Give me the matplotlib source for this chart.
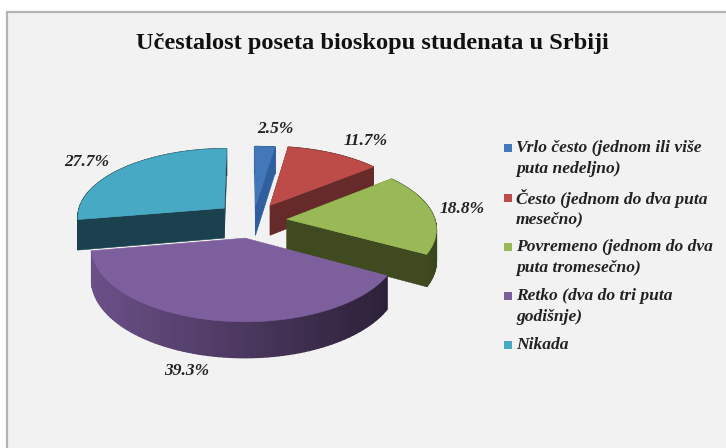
import numpy as np
import matplotlib
matplotlib.use('Agg')
import matplotlib.pyplot as plt
from matplotlib.patches import Polygon, Rectangle

title = 'Učestalost poseta bioskopu studenata u Srbiji'
values = [2.5, 11.7, 18.8, 39.3, 27.7]
legend_lines = [
    ['Vrlo često (jednom ili više', 'puta nedeljno)'],
    ['Često (jednom do dva puta', 'mesečno)'],
    ['Povremeno (jednom do dva', 'puta tromesečno)'],
    ['Retko (dva do tri puta', 'godišnje)'],
    ['Nikada'],
]

top_colors = ['#4277b9', '#bd4c49', '#98b955', '#7e5f9e', '#47a9c4']
face_colors = ['#2f5f9c', '#652a29', '#3f4a20', None, '#1c414e']
rim_left = ['#2f5f9c', '#652a29', '#4d5b27', '#6b5088', '#1c414e']
rim_right = ['#2f5f9c', '#652a29', '#3a451d', '#2d2139', '#1c414e']
# how far each slice is pulled out, in units of the pie radius
offsets = [(0.059, 0.33), (0.16, 0.33), (0.27, 0.126), (-0.012, -0.14), (-0.157, 0.29)]
label_pos = [(275, 129), (366, 141), (462, 209), (187, 371), (87, 162)]

cx, cy = 247, 228
rx, ry = 150, 71
persp = 0.12
depth = 31


def project(X, Y):
    s = 1 / (1 + persp * Y)
    return cx + rx * X * s, cy - ry * Y * s, depth * s


def to_rgb(c):
    return np.array(matplotlib.colors.to_rgb(c))


fig = plt.figure(figsize=(7.26, 4.48), dpi=100, facecolor='white')
ax = fig.add_axes([0, 0, 1, 1])
ax.set_xlim(0, 726)
ax.set_ylim(448, 0)
ax.axis('off')
ax.add_patch(Rectangle((7, 12), 740, 460, fc='#f2f2f2', ec='#b4b4b4', lw=1.6))

angles = np.radians(np.cumsum([0] + values) * 3.6)
order = [0, 1, 4, 2, 3]
for i in order:
    a0, a1 = angles[i], angles[i + 1]
    ox, oy = offsets[i]
    t = np.linspace(a0, a1, 80)
    x, y, d = project(ox + np.sin(t), oy + np.cos(t))
    ax_, ay_, ad_ = project(ox, oy)

    # outer rim, shaded left to right
    for j in range(len(t) - 1):
        f = np.clip((x[j] - x.min()) / max(x.max() - x.min(), 1), 0, 1)
        col = (1 - f) * to_rgb(rim_left[i]) + f * to_rgb(rim_right[i])
        quad = [(x[j], y[j]), (x[j + 1], y[j + 1]),
                (x[j + 1], y[j + 1] + d[j + 1]), (x[j], y[j] + d[j])]
        ax.add_patch(Polygon(quad, fc=col, ec=col, lw=1.0))

    # cut faces
    if face_colors[i]:
        for k in [0, -1]:
            quad = [(ax_, ay_), (x[k], y[k]), (x[k], y[k] + d[k]), (ax_, ay_ + ad_)]
            ax.add_patch(Polygon(quad, fc=face_colors[i], ec=face_colors[i], lw=0.4))

    pts = [(ax_, ay_)] + list(zip(x, y))
    ax.add_patch(Polygon(pts, fc=top_colors[i], ec=top_colors[i], lw=0.4))

serif = 'Liberation Serif'
ax.text(372, 44, title, family=serif, weight='bold', size=17.6, ha='center', va='center', color='#111111')

for v, (lx, ly) in zip(values, label_pos):
    ax.text(lx, ly, f'{v}%', family=serif, weight='bold', style='italic', size=12.5,
            ha='center', va='center', color='#222222')

row_y = [148, 198, 247, 296, 345]
for i, lines in enumerate(legend_lines):
    ax.add_patch(Rectangle((504, row_y[i] - 4), 8, 8, fc=top_colors[i], ec='none'))
    for n, line in enumerate(lines):
        ax.text(516, row_y[i] + n * 21, line, family=serif, weight='bold', style='italic',
                size=12.6, ha='left', va='center', color='#222222')

fig.savefig('out.png', dpi=100, facecolor='white')
